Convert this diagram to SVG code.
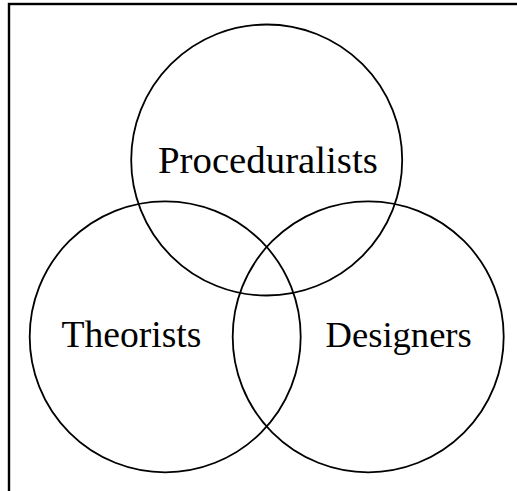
<svg xmlns="http://www.w3.org/2000/svg" width="517" height="491" viewBox="0 0 517 491">
  <style>
    .frame { fill: none; stroke: #000; stroke-width: 2.4; }
    .set { fill: none; stroke: #000; stroke-width: 1.8; }
    .label { font-family: "Liberation Serif", "Times New Roman", serif; fill: #000; }
  </style>
  <rect width="517" height="491" fill="#fff"/>
  <!-- outer frame, runs off the right and bottom edges -->
  <rect class="frame" x="9" y="4" width="520" height="500"/>
  <g id="proceduralists">
    <circle class="set" cx="266.7" cy="160" r="135.5"/>
    <text class="label" x="158" y="173" font-size="38.8">Proceduralists</text>
  </g>
  <g id="theorists">
    <circle class="set" cx="165.2" cy="336.8" r="135.5"/>
    <text class="label" x="61.5" y="347" font-size="37.6">Theorists</text>
  </g>
  <g id="designers">
    <circle class="set" cx="368.2" cy="336.8" r="135.5"/>
    <text class="label" x="325.5" y="347" font-size="36.6">Designers</text>
  </g>
  <g id="connectors"/>
</svg>
